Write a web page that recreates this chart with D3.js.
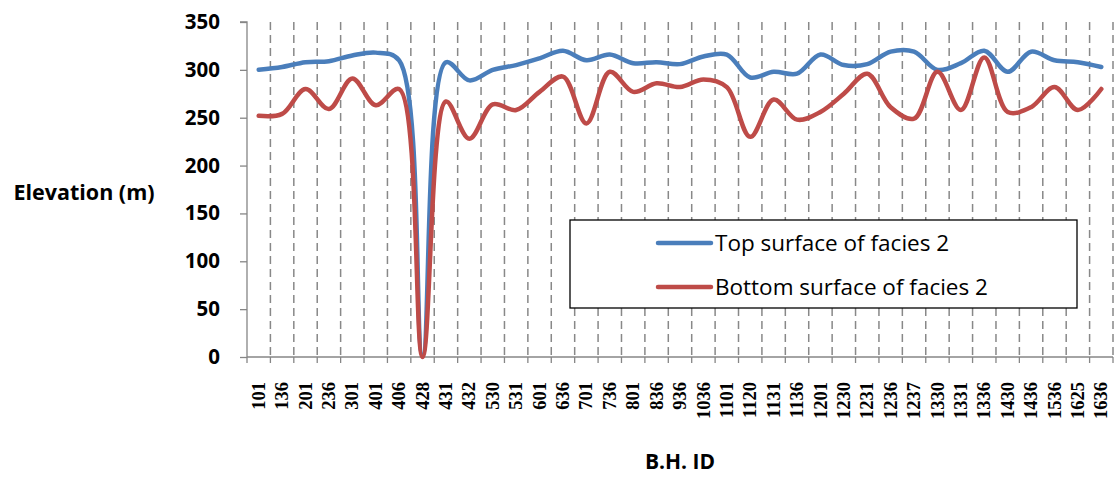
<!DOCTYPE html>
<html><head><meta charset="utf-8">
<script src="https://cdn.jsdelivr.net/npm/d3@7"></script>
<style>body{margin:0;background:#fff}svg{display:block}</style>
</head><body><svg id="c" width="1114" height="478"></svg>
<script>
const categories = ["101","136","201","236","301","401","406","428","431","432","530","531","601","636","701","736","801","836","936","1036","1101","1120","1131","1136","1201","1230","1231","1236","1237","1330","1331","1336","1430","1436","1536","1625","1636"];
const topSurface = [300,303,308,309,315,318,310,2,308,289,300,305,312,320,310,316,307,308,306,314,316,292,298,296,316,305,306,319,319,300,307,320,298,319,310,308,303];
const bottomSurface = [252,254,280,259,291,263,280,0,267,228,264,258,277,293,244,298,277,286,282,290,282,230,269,248,256,275,296,261,249,298,258,313,256,261,282,258,280];
const yTicks = [0,50,100,150,200,250,300,350];
const seriesNames = ["Top surface of facies 2","Bottom surface of facies 2"];
const colors = ["#4a7ebb","#be4b48"];

const svg = d3.select("#c");
const L = 247, R = 1113, T = 22, B = 357;
const x = d3.scaleBand().domain(categories).range([L, R]);
const y = d3.scaleLinear().domain([0, 350]).range([B, T]);
const axisColor = "#868686";

// dashed vertical gridlines at band boundaries
const bounds = categories.slice(1).map(c => x(c));
bounds.push(R);
svg.append("g").selectAll("line").data(bounds).join("line")
  .attr("x1", d => d).attr("x2", d => d).attr("y1", T).attr("y2", B)
  .attr("stroke", "#888").attr("stroke-width", 1.5).attr("stroke-dasharray", "8,5");

// y axis
const ya = svg.append("g").attr("transform", `translate(${L},0)`)
  .call(d3.axisLeft(y).tickValues(yTicks).tickSize(7).tickPadding(20));
ya.select(".domain").attr("stroke", axisColor).attr("stroke-width", 1.3).attr("d", `M-7,${T}H0V${B}`);
ya.selectAll(".tick line").attr("stroke", axisColor).attr("stroke-width", 1.3);
ya.selectAll("text").attr("font-family", "Open Sans").attr("font-weight", "bold").attr("font-size", 20.5).attr("fill", "#000");

// x axis
const xa = svg.append("g").attr("transform", `translate(0,${B})`)
  .call(d3.axisBottom(x).tickSize(0).tickPadding(0));
xa.select(".domain").attr("stroke", axisColor).attr("stroke-width", 1.3).attr("d", `M${L},0H${R}`);
xa.selectAll(".tick text")
  .attr("font-family", "Liberation Serif").attr("font-weight", "bold").attr("font-size", 18.5).attr("fill", "#000")
  .attr("transform", "rotate(-90)").attr("text-anchor", "end").attr("dy", "0.33em").attr("x", -25).attr("y", 0);
svg.append("g").selectAll("line").data([L, ...bounds]).join("line")
  .attr("x1", d => d).attr("x2", d => d).attr("y1", B).attr("y2", B + 6)
  .attr("stroke", axisColor).attr("stroke-width", 1.3);

// lines
const line = d3.line().x((d, i) => x(categories[i]) + x.bandwidth() / 2).y(d => y(d)).curve(d3.curveCatmullRom.alpha(0.5));
[topSurface, bottomSurface].forEach((s, k) => {
  svg.append("path").datum(s).attr("d", line).attr("fill", "none")
    .attr("stroke", colors[k]).attr("stroke-width", 4.5).attr("stroke-linejoin", "round").attr("stroke-linecap", "round");
});

// axis titles
svg.append("text").attr("x", 84).attr("y", 200).attr("text-anchor", "middle")
  .attr("font-family", "Open Sans").attr("font-weight", "bold").attr("font-size", 21.5).text("Elevation (m)");
svg.append("text").attr("x", 680).attr("y", 469).attr("text-anchor", "middle")
  .attr("font-family", "Open Sans").attr("font-weight", "bold").attr("font-size", 21).text("B.H. ID");

// legend
const lg = svg.append("g");
lg.append("rect").attr("x", 570).attr("y", 220).attr("width", 507).attr("height", 88)
  .attr("fill", "#fff").attr("stroke", "#000").attr("stroke-width", 1.3);
seriesNames.forEach((n, k) => {
  const yy = 243 + k * 44;
  lg.append("line").attr("x1", 658).attr("x2", 711).attr("y1", yy).attr("y2", yy)
    .attr("stroke", colors[k]).attr("stroke-width", 4.5).attr("stroke-linecap", "round");
  lg.append("text").attr("x", 715).attr("y", yy).attr("dy", "0.36em")
    .attr("font-family", "Open Sans").attr("font-size", 22.5).text(n);
});
</script></body></html>
